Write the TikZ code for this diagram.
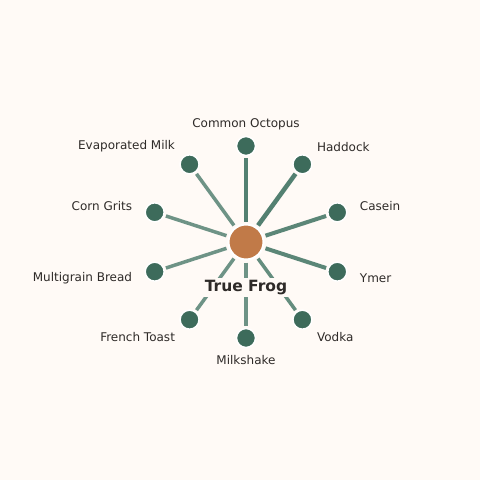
\documentclass[tikz,border=0pt]{standalone}
\usepackage{fontspec}
\setmainfont{DejaVu Sans}
\usetikzlibrary{positioning}
\definecolor{bgcream}{HTML}{FFFAF6}
\definecolor{leafgreen}{HTML}{3D6B5B}
\definecolor{spokegreen}{HTML}{4A7A6A}
\definecolor{hubbrown}{HTML}{C17A48}
\definecolor{inkgray}{HTML}{2E2A28}

\begin{document}
\begin{tikzpicture}[x=1pt, y=1pt,
    leaf/.style = {draw=white, line width=1.5pt, circle, fill=leafgreen, minimum size=19pt, inner sep=0pt},
    hub/.style = {draw=white, line width=2pt, circle, fill=hubbrown, minimum size=35pt, inner sep=0pt},
    tag/.style = {text=inkgray, font=\fontsize{12}{14}\selectfont, inner sep=0pt},
    spoke/.style = {draw=spokegreen, line width=3.5pt, draw opacity=0.8, shorten <=2pt, shorten >=1.5pt}]
    \fill[bgcream] (-246,-238) rectangle (234,242);
    \useasboundingbox (-246,-238) rectangle (234,242);

    \node[hub] (frog) at (0,0) {};

    \node[leaf] (octopus) at (90:96) {};
    \node[leaf] (haddock) at (54:96) {};
    \node[leaf] (casein) at (18:96) {};
    \node[leaf] (ymer) at (-18:96) {};
    \node[leaf] (vodka) at (-54:96) {};
    \node[leaf] (milkshake) at (-90:96) {};
    \node[leaf] (toast) at (-126:96) {};
    \node[leaf] (bread) at (-162:96) {};
    \node[leaf] (grits) at (162:96) {};
    \node[leaf] (evap) at (126:96) {};

    \draw[spoke, line width=4.5pt, draw opacity=0.95] (frog) -- (octopus);
    \draw[spoke, line width=4.5pt, draw opacity=0.95] (frog) -- (haddock);
    \draw[spoke, line width=4pt, draw opacity=0.9] (frog) -- (casein);
    \draw[spoke, line width=4pt, draw opacity=0.9] (frog) -- (ymer);
    \draw[spoke, draw opacity=0.85] (frog) -- (vodka);
    \draw[spoke] (frog) -- (milkshake);
    \draw[spoke] (frog) -- (toast);
    \draw[spoke] (frog) -- (bread);
    \draw[spoke] (frog) -- (grits);
    \draw[spoke] (frog) -- (evap);

    \node[tag] (octopuslabel) at (90:118) {Common Octopus};
    \node[tag, anchor=west, xshift=1.5pt] (haddocklabel) at (54:118) {Haddock};
    \node[tag, anchor=west, xshift=1.5pt] (caseinlabel) at (18:118) {Casein};
    \node[tag, anchor=west, xshift=1.5pt] (ymerlabel) at (-18:118) {Ymer};
    \node[tag, anchor=west, xshift=1.5pt] (vodkalabel) at (-54:118) {Vodka};
    \node[tag] (milkshakelabel) at (-90:118) {Milkshake};
    \node[tag, anchor=east, xshift=-1.5pt] (toastlabel) at (-126:118) {French Toast};
    \node[tag, anchor=east, xshift=-1.5pt] (breadlabel) at (-162:118) {Multigrain Bread};
    \node[tag, anchor=east, xshift=-1.5pt] (gritslabel) at (162:118) {Corn Grits};
    \node[tag, anchor=east, xshift=-1.5pt] (evaplabel) at (126:118) {Evaporated Milk};

    \node[fill=bgcream, inner sep=2pt, text=inkgray, font=\fontsize{15.5}{18}\selectfont\bfseries] (froglabel) at (0,-45.5) {True Frog};
\end{tikzpicture}
\end{document}
